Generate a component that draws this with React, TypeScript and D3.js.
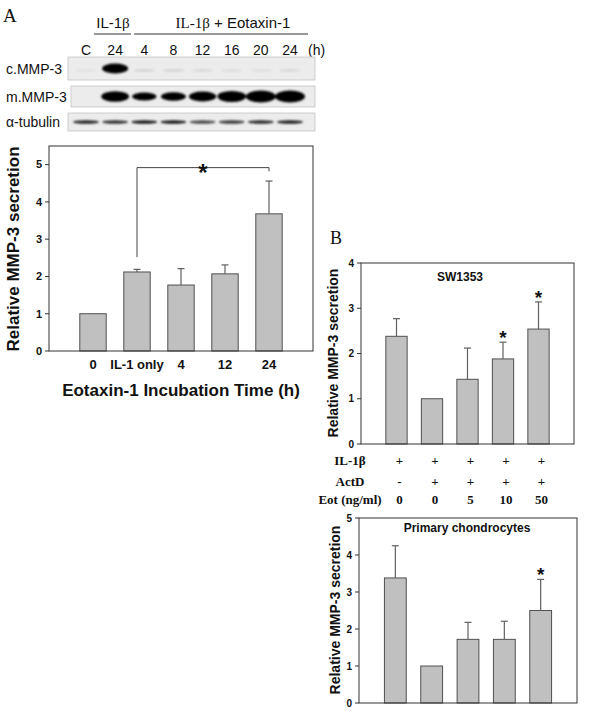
import React from "react";
import * as d3 from "d3";

// ---------- Blot data ----------
const laneLabels = ["C", "24", "4", "8", "12", "16", "20", "24"];
const cMMP3 = [0.05, 1.0, 0.1, 0.1, 0.08, 0.06, 0.06, 0.08];
const mMMP3 = [0.0, 0.85, 0.6, 0.65, 0.8, 0.9, 1.0, 1.0];
const tubulin = [0.8, 0.75, 0.85, 0.85, 0.65, 0.72, 0.78, 0.82];

// ---------- Panel A ----------
const aCategories = ["0", "IL-1 only", "4", "12", "24"];
const aValues = [1.0, 2.12, 1.77, 2.07, 3.68];
const aSD = [0, 0.07, 0.44, 0.24, 0.88];
const aTicks = [0, 1, 2, 3, 4, 5];

// ---------- Panel B (SW1353) ----------
const bGroups = ["g1", "g2", "g3", "g4", "g5"];
const b1Values = [2.38, 1.0, 1.43, 1.88, 2.54];
const b1SD = [0.39, 0, 0.69, 0.37, 0.6];
const b1Stars = [false, false, false, true, true];
const b1Ticks = [0, 1, 2, 3, 4];

// ---------- Panel B (Primary chondrocytes) ----------
const b2Values = [3.38, 1.0, 1.72, 1.72, 2.5];
const b2SD = [0.87, 0, 0.46, 0.49, 0.84];
const b2Stars = [false, false, false, false, true];
const b2Ticks = [0, 1, 2, 3, 4, 5];

// ---------- Treatment table ----------
const rowIL1b = ["+", "+", "+", "+", "+"];
const rowActD = ["-", "+", "+", "+", "+"];
const rowEot = ["0", "0", "5", "10", "50"];

const SANS = "'Liberation Sans', Arial, sans-serif";
const SERIF = "'Liberation Serif', 'Times New Roman', serif";

type ChartProps = {
  left: number; right: number; top: number; bottom: number;
  yMax: number; ticks: number[]; cats: string[];
  values: number[]; sd: number[];
  tickFont: number;
  render?: (x: d3.ScalePoint<string>, y: d3.ScaleLinear<number, number>, bw: number) => any;
};

function BarChart(p: ChartProps) {
  const x = d3.scalePoint<string>().domain(p.cats).range([p.left, p.right]).padding(1);
  const y = d3.scaleLinear().domain([0, p.yMax]).range([p.bottom, p.top]);
  const bw = x.step() * 0.6;
  return (
    <g>
      {p.cats.map((c, i) => {
        const cx = x(c)!;
        const top = y(p.values[i]);
        const et = y(p.values[i] + p.sd[i]);
        return (
          <g key={i}>
            <rect x={cx - bw / 2} y={top} width={bw} height={y(0) - top}
              fill="#c0c0c0" stroke="#505050" strokeWidth={1} />
            {p.sd[i] > 0 && (
              <g stroke="#606060" strokeWidth={1.2}>
                <line x1={cx} x2={cx} y1={top} y2={et} />
                <line x1={cx - 3.5} x2={cx + 3.5} y1={et} y2={et} />
              </g>
            )}
          </g>
        );
      })}
      <rect x={p.left} y={p.top} width={p.right - p.left} height={p.bottom - p.top}
        fill="none" stroke="#333" strokeWidth={1} />
      {p.ticks.map((t) => (
        <g key={t}>
          <line x1={p.left - 4} x2={p.left} y1={y(t)} y2={y(t)} stroke="#333" />
          <text x={p.left - 7} y={y(t)} dy="0.35em" textAnchor="end"
            fontFamily={SANS} fontWeight="bold" fontSize={p.tickFont} fill="#111">{t}</text>
        </g>
      ))}
      {p.render && p.render(x, y, bw)}
    </g>
  );
}

function BlotRow({ x0, y0, h, label, data, kind, lane }: any) {
  return (
    <g>
      <rect x={x0} y={y0} width={315 - x0} height={h} fill="#ececec" stroke="#c4c4c4" strokeWidth={0.8} />
      <text x={6} y={y0 + h / 2} dy="0.36em" fontFamily={SANS} fontSize={14} fill="#111">{label}</text>
      <g filter="url(#blur)">
        {data.map((v: number, i: number) => {
          if (v <= 0) return null;
          const cx = lane(i);
          let rx = 13, ry = 4, op = v;
          if (kind === "c") { rx = v > 0.5 ? 13 : 11; ry = v > 0.5 ? 5 : 1.5; }
          if (kind === "m") { rx = 8 + 7 * v; ry = 1 + 5 * v; op = 1; }
          if (kind === "t") { rx = 13; ry = 1.8; }
          return <ellipse key={i} cx={cx} cy={y0 + h / 2 + (kind === "c" && v < 0.5 ? 2 : 0)}
            rx={rx} ry={ry} fill="#000" opacity={Math.min(1, op * 1.05)} />;
        })}
      </g>
    </g>
  );
}

export default function App() {
  const lane = d3.scalePoint<number>().domain(d3.range(laneLabels.length)).range([86, 290]);
  const laneX = (i: number) => lane(i)!;
  const rows = [rowIL1b, rowActD, rowEot];
  const rowNames = ["IL-1\u03b2", "ActD", "Eot (ng/ml)"];
  const rowY = [460, 481, 499];

  return (
    <div style={{ position: "absolute", left: 0, top: 0 }}>
      <svg width={600} height={715} style={{ display: "block", background: "#fff" }}>
        <defs>
          <filter id="blur" x="-20%" y="-100%" width="140%" height="300%">
            <feGaussianBlur stdDeviation="1.1" />
          </filter>
        </defs>

        {/* Panel A label */}
        <text x={3} y={22} fontFamily={SERIF} fontSize={19} fill="#111">A</text>

        {/* Blot header */}
        <text x={113} y={28} textAnchor="middle" fontFamily={SANS} fontSize={15} fill="#111">IL-1<tspan fontFamily={SERIF}>β</tspan></text>
        <line x1={94} x2={131} y1={34} y2={34} stroke="#333" />
        <text x={233} y={28} textAnchor="middle" fontSize={15} fill="#111">
          <tspan fontFamily={SERIF}>IL-1β</tspan>
          <tspan fontFamily={SANS}> + Eotaxin-1</tspan>
        </text>
        <line x1={134} x2={308} y1={34} y2={34} stroke="#333" />
        {laneLabels.map((l, i) => (
          <text key={i} x={laneX(i)} y={55} textAnchor="middle" fontFamily={SANS} fontSize={14} fill="#111">{l}</text>
        ))}
        <text x={308} y={55} fontFamily={SANS} fontSize={14} fill="#111">(h)</text>

        <BlotRow x0={68} y0={57} h={23} label="c.MMP-3" data={cMMP3} kind="c" lane={laneX} />
        <BlotRow x0={71} y0={86} h={21} label="m.MMP-3" data={mMMP3} kind="m" lane={laneX} />
        <BlotRow x0={68} y0={113} h={18} label="α-tubulin" data={tubulin} kind="t" lane={laneX} />

        {/* Panel A chart */}
        <BarChart left={49} right={313} top={146} bottom={351} yMax={5.5}
          ticks={aTicks} cats={aCategories} values={aValues} sd={aSD} tickFont={11}
          render={(x, y) => {
            const x1 = x(aCategories[1])!;
            const x2 = x(aCategories[4])!;
            const level = 4.92;
            return (
              <g>
                <path d={`M${x1},${y(2.52)}V${y(level)}H${x2}V${y(4.82)}`} fill="none" stroke="#444" strokeWidth={1} />
                <text x={(x1 + x2) / 2} y={y(level) + 13} textAnchor="middle" fontFamily={SANS}
                  fontWeight="bold" fontSize={24} fill="#111">*</text>
                {aCategories.map((c) => (
                  <text key={c} x={x(c)} y={369} textAnchor="middle" fontFamily={SANS}
                    fontWeight="bold" fontSize={13} fill="#111">{c}</text>
                ))}
              </g>
            );
          }} />
        <text x={181} y={396} textAnchor="middle" fontFamily={SANS} fontWeight="bold" fontSize={17} fill="#111">
          Eotaxin-1 Incubation Time (h)
        </text>
        <text transform="translate(19,249) rotate(-90)" textAnchor="middle" fontFamily={SANS}
          fontWeight="bold" fontSize={17} fill="#111">Relative MMP-3 secretion</text>

        {/* Panel B label */}
        <text x={330} y={244} fontFamily={SERIF} fontSize={18} fill="#111">B</text>

        {/* Panel B chart 1 */}
        <BarChart left={361} right={574} top={263} bottom={444} yMax={4}
          ticks={b1Ticks} cats={bGroups} values={b1Values} sd={b1SD} tickFont={10}
          render={(x, y) => (
            <g>
              {bGroups.map((g, i) => b1Stars[i] ? (
                <text key={g} x={x(g)} y={y(b1Values[i] + b1SD[i]) + 2} textAnchor="middle"
                  fontFamily={SANS} fontWeight="bold" fontSize={19} fill="#111">*</text>
              ) : null)}
              {rows.map((r, ri) => r.map((v, i) => (
                <text key={ri + "-" + i} x={x(bGroups[i])! + 3} y={rowY[ri]} dy="0.35em" textAnchor="middle"
                  fontFamily={SERIF} fontWeight="bold" fontSize={13} fill="#111">{v}</text>
              )))}
            </g>
          )} />
        <text x={460} y={277} dy="0.35em" textAnchor="middle" fontFamily={SANS} fontWeight="bold" fontSize={12} fill="#111">SW1353</text>
        <text transform="translate(338,353) rotate(-90)" textAnchor="middle" fontFamily={SANS}
          fontWeight="bold" fontSize={14} fill="#111">Relative MMP-3 secretion</text>
        {rowNames.map((n, i) => (
          <text key={n} x={350} y={rowY[i]} dy="0.35em" textAnchor="middle" fontFamily={SERIF}
            fontWeight="bold" fontSize={13} fill="#111">{n}</text>
        ))}

        {/* Panel B chart 2 */}
        <BarChart left={359} right={577} top={518} bottom={703} yMax={5}
          ticks={b2Ticks} cats={bGroups} values={b2Values} sd={b2SD} tickFont={10}
          render={(x, y) => (
            <g>
              {bGroups.map((g, i) => b2Stars[i] ? (
                <text key={g} x={x(g)} y={y(b2Values[i] + b2SD[i]) + 2} textAnchor="middle"
                  fontFamily={SANS} fontWeight="bold" fontSize={19} fill="#111">*</text>
              ) : null)}
            </g>
          )} />
        <text x={467} y={528} dy="0.35em" textAnchor="middle" fontFamily={SANS} fontWeight="bold" fontSize={12} fill="#111">Primary chondrocytes</text>
        <text transform="translate(340,610) rotate(-90)" textAnchor="middle" fontFamily={SANS}
          fontWeight="bold" fontSize={14} fill="#111">Relative MMP-3 secretion</text>
      </svg>
    </div>
  );
}
